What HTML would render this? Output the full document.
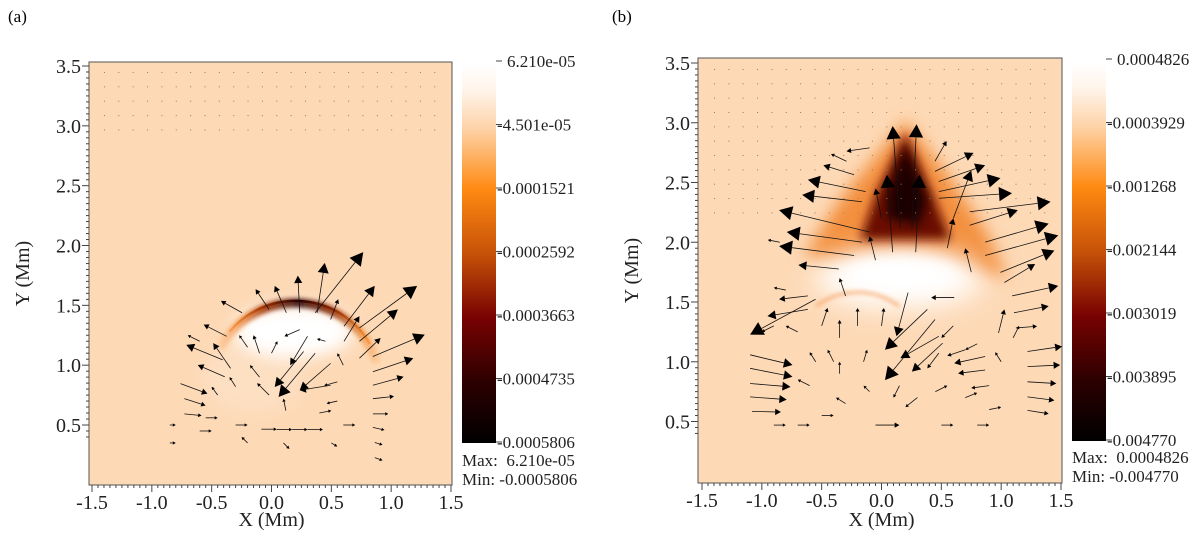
<!DOCTYPE html>
<html><head><meta charset="utf-8"><style>
html,body{margin:0;padding:0;background:#fff;}
svg{display:block;font-family:"Liberation Serif",serif;}
</style></head><body>
<svg id="fig" width="1200" height="534" viewBox="0 0 1200 534" xmlns="http://www.w3.org/2000/svg">
<defs>
<filter id="b2" x="-50%" y="-50%" width="200%" height="200%"><feGaussianBlur stdDeviation="2"/></filter>
<filter id="b5" x="-50%" y="-50%" width="200%" height="200%"><feGaussianBlur stdDeviation="5"/></filter>
<filter id="b8" x="-50%" y="-50%" width="200%" height="200%"><feGaussianBlur stdDeviation="8"/></filter>
<filter id="b14" x="-50%" y="-50%" width="200%" height="200%"><feGaussianBlur stdDeviation="14"/></filter>
<linearGradient id="cbar" x1="0" y1="0" x2="0" y2="1">
<stop offset="0" stop-color="#ffffff"/><stop offset="0.07" stop-color="#fff4ea"/>
<stop offset="0.17" stop-color="#fdd3a8"/><stop offset="0.33" stop-color="#ff8a12"/>
<stop offset="0.5" stop-color="#c65208"/><stop offset="0.67" stop-color="#780202"/>
<stop offset="0.84" stop-color="#2c0000"/><stop offset="1" stop-color="#000000"/>
</linearGradient>
<clipPath id="clipA"><rect x="89" y="62" width="363" height="423"/></clipPath>
<clipPath id="clipB"><rect x="698" y="58" width="364" height="425"/></clipPath>
</defs>
<text x="8" y="22" font-size="17">(a)</text>
<text x="612" y="22" font-size="17">(b)</text>
<g id="pa"></g>
<g id="pb"></g>
</svg>
<script>
// ---- data ----
const xTicks = [-1.5,-1.0,-0.5,0.0,0.5,1.0,1.5];
const yTicks = [0.5,1.0,1.5,2.0,2.5,3.0,3.5];
const cbarLabelsA = ["6.210e-05","-4.501e-05","-0.0001521","-0.0002592","-0.0003663","-0.0004735","-0.0005806"];
const cbarLabelsB = ["0.0004826","-0.0003929","-0.001268","-0.002144","-0.003019","-0.003895","-0.004770"];
const statsA = ["Max:  6.210e-05","Min: -0.0005806"];
const statsB = ["Max:  0.0004826","Min: -0.004770"];
const gridX = [-1.4,-1.28,-1.16,-1.04,-0.92,-0.8,-0.68,-0.56,-0.44,-0.32,-0.2,-0.08,0.04,0.16,0.28,0.4,0.52,0.64,0.76,0.88,1.0,1.12,1.24,1.36];
const gridYA = [3.45,3.33,3.21,3.09,2.97];
const gridYB = [3.45,3.33,3.21,3.09,2.97,2.85,2.73,2.61,2.49,2.37,2.25];
// arrows [tailX, tailY, tipX, tipY] in Mm
const arrowsA = [
[0.365,1.438,0.767,1.945],[0.381,1.438,0.445,1.855],[0.236,1.438,0.220,1.748],[0.124,1.438,0.027,1.663],
[-0.021,1.466,-0.133,1.635],[-0.246,1.438,-0.423,1.537],[0.735,1.311,1.217,1.663],[0.606,1.325,0.863,1.663],
[0.735,1.199,1.056,1.466],[0.847,1.072,1.281,1.255],[0.847,0.945,1.185,1.058],[0.847,0.832,1.104,0.903],
[0.847,0.720,1.024,0.739],[0.847,0.593,0.976,0.593],[0.847,0.480,0.944,0.458],[0.863,0.354,0.928,0.334],
[0.863,0.227,0.928,0.204],[0.494,1.382,0.558,1.551],[0.606,1.199,0.735,1.41],[0.735,1.058,0.912,1.227],
[0.365,1.1,0.059,0.734],[0.268,1.114,0.027,0.818],[0.494,1.015,0.236,0.790],[0.301,1.241,0.156,1.0],
[-0.407,1.044,-0.712,1.170],[-0.391,0.903,-0.616,1.001],[-0.760,0.846,-0.535,0.762],[-0.728,0.720,-0.551,0.663],
[-0.728,0.593,-0.584,0.579],[-0.342,0.973,-0.487,1.184],[-0.375,1.241,-0.567,1.339],[-0.085,0.465,0.044,0.465],
[0.044,0.462,0.172,0.462],[0.172,0.462,0.301,0.462],[0.301,0.462,0.430,0.462],[0.236,1.297,0.108,1.241],
[0.494,0.832,0.236,0.79],[-0.2,1.15,-0.27,1.25],[-0.1,1.1,-0.15,1.25],[0.0,1.1,0.05,1.2],
[-0.1,0.9,-0.18,1.0],[-0.02,0.75,-0.12,0.85],[0.12,0.62,0.1,0.72],[-0.55,0.56,-0.45,0.56],
[-0.3,0.82,-0.35,0.9],[0.45,1.2,0.38,1.22],[0.55,0.7,0.46,0.68],[0.55,0.86,0.44,0.83],
[-0.85,0.5,-0.8,0.5],[-0.6,0.45,-0.5,0.45],[-0.3,0.5,-0.2,0.5],[0.6,0.5,0.7,0.5],
[-0.2,0.35,-0.25,0.4],[0.1,0.35,0.15,0.3],[0.4,0.6,0.5,0.62],[-0.45,0.75,-0.5,0.82],
[0.6,1.0,0.55,1.1],[-0.6,1.2,-0.7,1.25],[-0.85,0.35,-0.8,0.35],[0.5,0.35,0.55,0.32]
];
const arrowsB = [
[0.158,2.114,0.093,2.973],[0.254,2.114,0.293,2.987],[0.093,1.917,0.045,2.565],[0.286,1.917,0.318,2.565],
[-0.100,2.086,-0.856,2.269],[-0.164,2.001,-0.792,2.086],[-0.229,1.889,-0.856,1.968],[-0.357,1.776,-0.695,1.810],
[0.737,2.255,1.413,2.339],[0.737,2.142,1.139,2.269],[0.866,2.001,1.397,2.156],[0.866,1.889,1.477,2.058],
[0.994,1.748,1.445,1.931],[1.027,1.663,1.284,1.818],[1.091,1.551,1.477,1.635],[1.107,1.41,1.397,1.466],
[1.123,1.283,1.300,1.297],[1.220,1.086,1.509,1.128],[1.220,0.959,1.493,0.973],[1.220,0.832,1.461,0.818],
[1.220,0.706,1.445,0.677],[1.220,0.593,1.397,0.565],[-0.132,2.424,-0.615,2.523],[-0.164,2.339,-0.663,2.396],
[-0.229,2.565,-0.486,2.644],[-0.293,2.678,-0.422,2.739],[-0.100,2.79,-0.293,2.762],[0.479,2.424,0.994,2.537],
[0.479,2.508,0.866,2.644],[0.447,2.593,0.769,2.748],[0.447,2.678,0.544,2.847],[0.479,2.368,1.091,2.41],
[0.447,1.354,0.029,0.846],[0.383,1.438,0.029,1.1],[0.479,1.213,0.158,1.03],[0.511,1.156,0.254,0.917],
[0.479,1.072,0.383,0.945],[0.222,1.579,0.125,1.213],[-0.551,1.523,-1.098,1.227],[-0.615,1.438,-0.953,1.382],
[-1.098,1.058,-0.744,0.973],[-1.098,0.945,-0.744,0.875],[-1.098,0.818,-0.760,0.79],[-1.098,0.706,-0.792,0.683],
[-1.082,0.585,-0.840,0.579],[-0.615,1.551,-0.856,1.523],[0.608,1.537,0.415,1.537],[0.866,0.931,0.640,0.903],
[0.866,1.044,0.608,0.987],[0.978,1.241,1.027,1.438],[0.6,2.2,0.75,2.6],[0.0,2.2,-0.05,2.45],
[0.55,1.95,0.6,2.2],[-0.05,1.85,-0.1,2.05],[0.75,1.75,0.7,1.95],[-0.3,1.55,-0.35,1.7],
[-0.5,1.3,-0.45,1.45],[-0.2,1.3,-0.2,1.45],[0.0,1.3,0.02,1.45],[0.7,1.1,0.55,1.05],
[-0.9,1.3,-1.0,1.25],[-0.4,1.0,-0.45,1.1],[0.9,0.8,0.75,0.78],[-0.05,0.47,0.15,0.47],
[-0.35,1.2,-0.35,1.35],[-0.35,0.9,-0.35,1.0],[-0.15,1.0,-0.12,1.1],[-0.55,1.0,-0.6,1.08],
[-0.7,1.25,-0.8,1.3],[-0.6,0.8,-0.7,0.85],[-0.3,0.65,-0.38,0.7],[0.15,0.8,0.1,0.7],
[0.3,0.7,0.2,0.62],[0.45,0.75,0.55,0.8],[0.7,0.7,0.8,0.74],[0.9,0.6,1.0,0.62],
[-0.9,0.47,-0.8,0.47],[-0.7,0.47,-0.6,0.47],[0.5,0.47,0.6,0.47],[0.8,0.47,0.9,0.47],
[-0.1,0.75,-0.15,0.8],[0.6,1.3,0.5,1.2],[0.8,1.15,0.7,1.1],[1.0,1.0,0.95,1.08],
[-0.8,1.6,-0.9,1.62],[-0.85,2.0,-0.95,2.02],[1.1,1.2,1.15,1.3],[-0.5,0.55,-0.4,0.55]
];
// ---- drawing ----
const NS = "http://www.w3.org/2000/svg";
function mk(parent, tag, attrs){const e=document.createElementNS(NS,tag);for(const k in attrs)e.setAttribute(k,attrs[k]);parent.appendChild(e);return e;}

function panel(g, P){
  const sx = x => P.x1 + (x+1.5)*(P.x2-P.x1)/3;
  const sy = y => P.y05 - (y-0.5)*(P.y05-P.y35)/3;
  const plotBg = mk(g,'rect',{x:P.L,y:P.T,width:P.R-P.L,height:P.B-P.T,fill:'#fdd9b6',stroke:'#555','stroke-width':1});
  
  
  const heat = mk(g,'g',{'clip-path':P.clip});
  
  
  P.heat(heat, sx, sy);
  const dots = mk(g,'g',{fill:'#9a7a66'});
  
  
  P.gridY.forEach(y=>gridX.forEach(x=>{mk(dots,'rect',{x:sx(x),y:sy(y),width:1,height:1});}));
  const ar = mk(g,'g',{stroke:'#111','stroke-width':0.8,fill:'#000'});
  
  
  P.arrows.forEach(a=>{
    const x0=sx(a[0]),y0=sy(a[1]),x1=sx(a[2]),y1=sy(a[3]);
    const dx=x1-x0,dy=y1-y0,L=Math.hypot(dx,dy)||1,ux=dx/L,uy=dy/L;
    const h=Math.max(3,Math.min(13,L*0.2)),w=h*0.55;
    const bx=x1-ux*h,by=y1-uy*h;
    const ln=mk(ar,'line',{x1:x0,y1:y0,x2:bx,y2:by});
    
    
    const hd=mk(ar,'polygon',{points:`${x1},${y1} ${bx-uy*w},${by+ux*w} ${bx+uy*w},${by-ux*w}`,stroke:'none'});
    
    
  });
  const ax = mk(g,'g',{stroke:'#444','stroke-width':1});
  
  
  for(let i=0;i<=60;i++){const x=-1.5+i*0.05;const maj=i%10===0;mk(ax,'line',{x1:sx(x),x2:sx(x),y1:P.B,y2:P.B+(maj?7:3)});}
  for(let i=-2;i<=61;i++){const y=0.5+i*0.05;const Y=sy(y);if(Y<P.T||Y>P.B)continue;const maj=(i%10===0);mk(ax,'line',{x1:P.L,x2:P.L-(maj?7:3),y1:Y,y2:Y});}
  xTicks.forEach(v=>{const t=mk(g,'text',{x:sx(v),y:P.B+24,'font-size':20,'text-anchor':'middle',fill:'#222'});t.textContent=v.toFixed(1);
    
    });
  yTicks.forEach(v=>{const t=mk(g,'text',{x:P.L-8,y:sy(v)+7,'font-size':20,'text-anchor':'end',fill:'#222'});t.textContent=v.toFixed(1);
    
    });
  const xt=mk(g,'text',{x:(sx(-1.5)+sx(1.5))/2,y:526,'font-size':20,'text-anchor':'middle',fill:'#222'});xt.textContent='X (Mm)';
  
  
  const yt=mk(g,'text',{x:0,y:0,'font-size':20,'text-anchor':'middle',fill:'#222',transform:`translate(${P.L-60},${(P.T+P.B)/2}) rotate(-90)`});yt.textContent='Y (Mm)';
  
  
  const cb=mk(g,'rect',{x:P.cbx,y:P.cby1,width:34,height:P.cby2-P.cby1,fill:'url(#cbar)'});
  
  
  P.labels.forEach((s,i)=>{
    const y=P.cby1-3+i*(P.cby2-P.cby1+2)/6;
    mk(g,'line',{x1:P.cbx+34,x2:P.cbx+40,y1:y,y2:y,stroke:'#444'});
    const t=mk(g,'text',{x:P.cbx+(s[0]==='-'?35:45),y:y+6,'font-size':17,fill:'#222'});t.textContent=s;
    
    
  });
  P.stats.forEach((s,i)=>{const t=mk(g,'text',{x:P.cbx,y:P.stY+i*19,'font-size':17,fill:'#222'});t.textContent=s;t.style.whiteSpace='pre';
    
    });
}

panel(document.getElementById('pa'),{
  L:89,R:452,T:62,B:485,x1:92,x2:451,y05:425,y35:66,clip:'url(#clipA)',
  gridY:gridYA,arrows:arrowsA,labels:cbarLabelsA,stats:statsA,cbx:462,cby1:64,cby2:443,stY:466,
  heat:(h,sx,sy)=>{
    const k=(sx(1)-sx(0));
    mk(h,'ellipse',{cx:sx(-0.15),cy:sy(0.9),rx:0.42*k,ry:0.3*k,fill:'#fddfc2',filter:'url(#b8)'});
    mk(h,'ellipse',{cx:sx(0.18),cy:sy(1.28),rx:0.5*k,ry:0.22*k,fill:'#ffffff',filter:'url(#b8)'});
    const cx=sx(0.2),cy=sy(0.8),r=0.72*k;
    const arc=(a0,a1)=>{const p=a=>[cx+r*Math.cos(a*Math.PI/180),cy-r*Math.sin(a*Math.PI/180)];const s=p(a0),e=p(a1);return `M${s[0]},${s[1]} A${r},${r} 0 0 1 ${e[0]},${e[1]}`;};
    const lg=mk(document.querySelector('defs'),'linearGradient',{id:'arcA',gradientUnits:'userSpaceOnUse',x1:sx(-0.5),y1:0,x2:sx(0.95),y2:0});
    [[0,'#ff9a40',0],[0.15,'#f07a20',0.7],[0.3,'#a03000',1],[0.5,'#2a0000',1],[0.7,'#902800',1],[0.88,'#f08020',0.7],[1,'#ff9a40',0]].forEach(s=>mk(lg,'stop',{offset:s[0],'stop-color':s[1],'stop-opacity':s[2]}));
    mk(h,'path',{d:arc(152,18),fill:'none',stroke:'url(#arcA)','stroke-width':9,filter:'url(#b2)',opacity:0.85});
    mk(h,'path',{d:arc(140,30),fill:'none',stroke:'url(#arcA)','stroke-width':2.5,transform:`translate(0,-2)`});
  }
});

panel(document.getElementById('pb'),{
  L:698,R:1062,T:58,B:483,x1:702,x2:1061,y05:421.5,y35:63,clip:'url(#clipB)',
  gridY:gridYB,arrows:arrowsB,labels:cbarLabelsB,stats:statsB,cbx:1072,cby1:62,cby2:441,stY:463,
  heat:(h,sx,sy)=>{
    const pts=a=>a.map(p=>sx(p[0])+','+sy(p[1])).join(' ');
    mk(h,'polygon',{points:pts([[0.2,3.02],[0.6,2.5],[0.9,2.05],[1.05,1.7],[0.7,1.78],[-0.2,1.82],[-0.65,1.88],[-0.35,2.35]]),fill:'#f38f3c',filter:'url(#b8)'});
    mk(h,'ellipse',{cx:sx(0.15),cy:sy(1.7),rx:sx(0.7)-sx(0),ry:sy(1.45)-sy(1.7),fill:'#ffffff',filter:'url(#b14)'});
    mk(h,'ellipse',{cx:sx(0.15),cy:sy(1.75),rx:sx(0.45)-sx(0),ry:sy(1.62)-sy(1.75),fill:'#ffffff',filter:'url(#b8)'});
    mk(h,'polygon',{points:pts([[0.2,2.92],[0.45,2.35],[0.58,2.02],[-0.18,2.02],[-0.05,2.4]]),fill:'#6a1000',filter:'url(#b5)'});
    mk(h,'polygon',{points:pts([[0.2,2.8],[0.38,2.35],[0.32,2.15],[0.05,2.2],[0.05,2.4]]),fill:'#1a0000',filter:'url(#b5)'});
    const cx=sx(-0.2),cy=sy(1.0),r=sx(0.58)-sx(0);
    mk(h,'path',{d:`M${cx-r*0.6},${cy-r*0.8} A${r},${r} 0 0 1 ${cx+r*0.6},${cy-r*0.8}`,fill:'none',stroke:'#f6a060','stroke-width':3,filter:'url(#b2)',opacity:0.8});
  }
});
</script>
</body></html>
